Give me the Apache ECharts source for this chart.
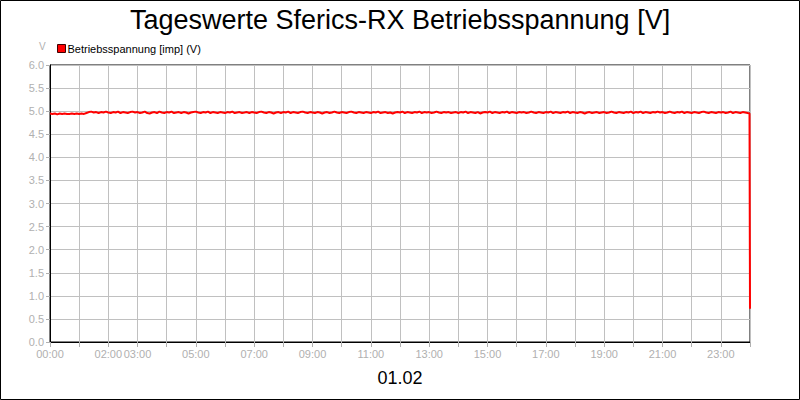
<!DOCTYPE html>
<html>
<head>
<meta charset="utf-8">
<script src="https://cdn.jsdelivr.net/npm/echarts@6/dist/echarts.min.js"></script>
<style>
html,body{margin:0;padding:0;background:#fff;}
#c{width:800px;height:400px;}
</style>
</head>
<body>
<div id="c"></div>
<script>
const titleText = "Tageswerte Sferics-RX Betriebsspannung [V]";
const dateText = "01.02";
const seriesName = "Betriebsspannung [imp] (V)";
const stepMinutes = 5;
const voltage = [
4.95,4.94,4.95,4.93,4.95,4.94,4.95,4.94,4.94,4.95,4.94,4.95,
4.94,4.95,4.94,4.96,4.98,4.99,4.97,4.98,4.96,4.98,4.97,4.99,
4.97,4.96,4.98,4.97,4.99,4.96,4.98,4.97,4.96,4.98,4.99,4.97,
4.98,4.96,4.97,4.99,4.96,4.95,4.97,4.98,4.96,4.99,4.97,4.96,
4.98,4.97,4.99,4.96,4.97,4.98,4.96,4.98,4.97,4.95,4.97,4.98,
4.99,4.97,4.96,4.98,4.97,4.99,4.96,4.98,4.97,4.96,4.98,4.97,
4.96,4.98,4.97,4.99,4.96,4.97,4.98,4.96,4.97,4.98,4.96,4.98,
4.97,4.96,4.98,4.99,4.97,4.96,4.98,4.97,4.95,4.97,4.98,4.96,
4.98,4.97,4.99,4.96,4.98,4.97,4.96,4.98,4.99,4.97,4.96,4.98,
4.97,4.96,4.98,4.97,4.95,4.97,4.98,4.96,4.97,4.99,4.97,4.96,
4.98,4.97,4.96,4.98,4.99,4.97,4.96,4.98,4.97,4.96,4.98,4.97,
4.96,4.98,4.97,4.99,4.96,4.97,4.98,4.96,4.97,4.95,4.97,4.98,
4.97,4.99,4.96,4.98,4.97,4.96,4.98,4.97,4.99,4.96,4.98,4.97,
4.98,4.96,4.97,4.99,4.97,4.96,4.98,4.97,4.98,4.96,4.97,4.98,
4.96,4.98,4.97,4.99,4.96,4.98,4.97,4.96,4.98,4.95,4.97,4.98,
4.97,4.99,4.96,4.98,4.97,4.96,4.98,4.97,4.99,4.96,4.98,4.97,
4.96,4.98,4.97,4.98,4.96,4.97,4.99,4.97,4.96,4.98,4.97,4.96,
4.98,4.97,4.99,4.96,4.98,4.97,4.96,4.98,4.97,4.99,4.96,4.98,
4.97,4.96,4.98,4.97,4.95,4.97,4.98,4.96,4.97,4.98,4.96,4.97,
4.98,4.96,4.97,4.99,4.97,4.96,4.98,4.97,4.96,4.98,4.97,4.99,
4.96,4.98,4.97,4.99,4.96,4.98,4.97,4.96,4.98,4.97,4.99,4.97,
4.98,4.96,4.97,4.99,4.97,4.96,4.98,4.97,4.99,4.96,4.98,4.97,
4.96,4.98,4.97,4.96,4.98,4.99,4.97,4.96,4.98,4.97,4.96,4.98,
4.97,4.98,4.96,4.97,4.99,4.96,4.98,4.97,4.96,4.98,4.97,4.96
];
const endMinutes = [1439, 1440];
const endVoltage = [4.95, 0.72];
const xLabels = {0:"00:00",2:"02:00",3:"03:00",5:"05:00",7:"07:00",9:"09:00",11:"11:00",13:"13:00",15:"15:00",17:"17:00",19:"19:00",21:"21:00",23:"23:00"};

const data = voltage.map((v,i)=>[i*stepMinutes/60, v]);
endMinutes.forEach((m,i)=>data.push([m/60, endVoltage[i]]));

const chart = echarts.init(document.getElementById('c'), null, {renderer:'svg'});
chart.setOption({
  animation:false,
  backgroundColor:'#fff',
  textStyle:{fontFamily:'Liberation Sans, Arial, sans-serif'},
  title:[
    {text:titleText,left:'center',top:1,textStyle:{fontSize:27,fontWeight:'normal',color:'#000',fontFamily:'Liberation Sans, Arial, sans-serif'}},
    {text:dateText,left:'center',top:364,textStyle:{fontSize:18,fontWeight:'normal',color:'#000',fontFamily:'Liberation Sans, Arial, sans-serif'}}
  ],
  legend:{
    left:52,top:38,itemWidth:8,itemHeight:8,itemGap:4,
    icon:'rect',
    textStyle:{fontSize:11,color:'#000',padding:[0,0,0,-3]},
    data:[{name:seriesName,itemStyle:{color:'#ff0000',borderColor:'#400000',borderWidth:1}}]
  },
  graphic:[
    {type:'rect',shape:{x:0.5,y:0.5,width:799,height:399},style:{fill:'none',stroke:'#000',lineWidth:1},silent:true},
    {type:'text',left:39,top:41,style:{text:'V',fontSize:10,fill:'#b0b0b0',fontFamily:'Liberation Sans, Arial, sans-serif'}}
  ],
  grid:{left:50,right:50,top:65,bottom:58,show:true,borderColor:'#000',borderWidth:1,backgroundColor:'#fff'},
  xAxis:{
    type:'value',min:0,max:24,interval:1,
    axisLine:{lineStyle:{color:'#000'}},
    axisTick:{show:true,length:5,lineStyle:{color:'#b0b0b0'}},
    splitLine:{show:true,lineStyle:{color:'#c0c0c0'}},
    axisLabel:{color:'#b0b0b0',fontSize:11,margin:6,showMaxLabel:true,formatter:v=>xLabels[v]||''}
  },
  yAxis:{
    type:'value',min:0,max:6,interval:0.5,
    axisLine:{show:true,lineStyle:{color:'#000'}},
    axisTick:{show:true,length:4,lineStyle:{color:'#b0b0b0'}},
    splitLine:{show:true,lineStyle:{color:'#c0c0c0'}},
    axisLabel:{color:'#b0b0b0',fontSize:11,margin:6,formatter:v=>v.toFixed(1)}
  },
  series:[{
    name:seriesName,type:'line',data:data,showSymbol:false,
    lineStyle:{color:'#ff0000',width:2},itemStyle:{color:'#ff0000'}
  }]
});
</script>
</body>
</html>
